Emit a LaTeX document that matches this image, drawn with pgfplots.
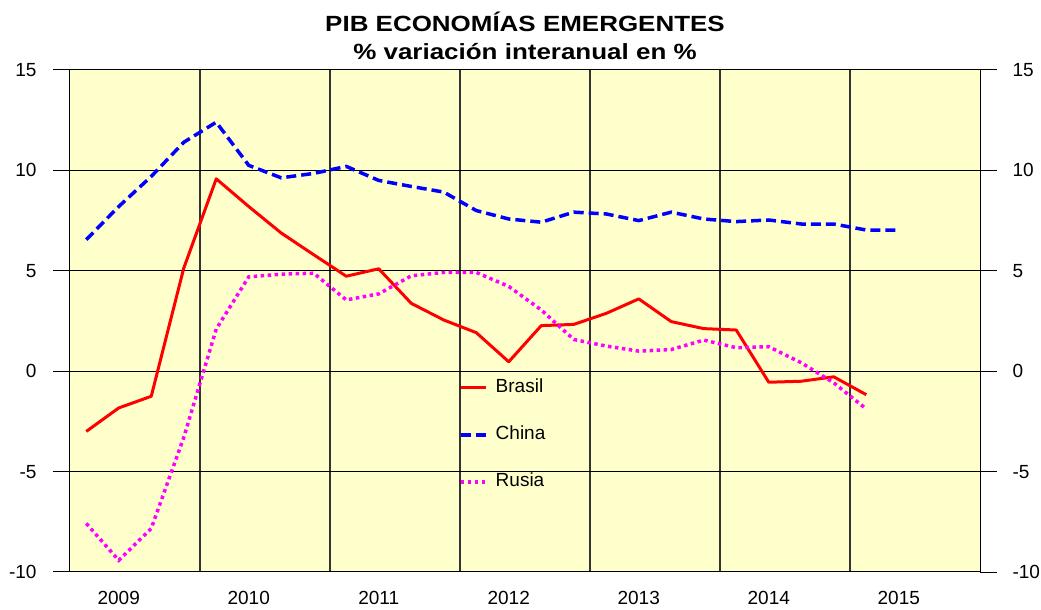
\documentclass[border=0pt]{standalone}
\usepackage{pgfplots}
\pgfplotsset{compat=1.18}
\usepackage{fontspec}
\setmainfont{Liberation Sans}
\newfontfamily\titlefont[FakeStretch=1.18]{Liberation Sans}
\definecolor{plotbg}{HTML}{FFFFCC}
\definecolor{brasil}{HTML}{FF0000}
\definecolor{china}{HTML}{0000FF}
\definecolor{rusia}{HTML}{FF00FF}
\begin{document}
\begin{tikzpicture}
\path[use as bounding box] (-70pt,-38pt) rectangle (971pt,572pt);
\begin{axis}[
  at={(0pt,0pt)}, anchor=south west,
  scale only axis, width=910pt, height=502pt,
  xmin=0, xmax=28, ymin=-10, ymax=15,
  axis background/.style={fill=plotbg},
  ytick={-10,-5,0,5,10,15},
  ymajorgrids, major grid style={black, line width=1pt},
  xtick={1.5,5.5,9.5,13.5,17.5,21.5,25.5},
  xticklabels={2009,2010,2011,2012,2013,2014,2015},
  minor xtick={4,8,12,16,20,24}, xminorgrids,
  minor grid style={black!80, line width=1.2pt},
  xtick style={draw=none},
  ytick pos=left, tick align=outside, major tick length=17pt,
  ytick style={black, line width=1pt},
  axis line style={black, line width=1pt},
  tick label style={font=\fontsize{19}{23}\selectfont},
  /pgf/number format/assume math mode=true,
  yticklabel style={xshift=-13pt},
  xticklabel style={yshift=1pt},
  title={PIB ECONOMÍAS EMERGENTES\\\% variación interanual en \%},
  title style={font=\titlefont\bfseries\fontsize{22}{28}\selectfont, align=center,
    at={(0.5,1)}, anchor=south, inner sep=0pt, yshift=4pt},
  legend style={at={(0.4275,0.385)}, anchor=north west, draw=none, fill=none,
    font=\fontsize{19}{23}\selectfont, inner sep=0pt,
    nodes={inner sep=0pt, text height=14pt, text depth=4pt},
    /tikz/row sep=29pt, /tikz/column sep=8pt},
  legend cell align=left,
  legend image code/.code={\draw[#1] (0pt,0pt) -- (25pt,0pt);},
]
\addplot[brasil, line width=3pt, line join=round] coordinates {
(0.5,-3.0)(1.5,-1.83)(2.5,-1.25)(3.5,5.13)(4.5,9.58)(5.5,8.2)(6.5,6.88)(7.5,5.8)(8.5,4.73)(9.5,5.1)(10.5,3.38)(11.5,2.55)(12.5,1.92)(13.5,0.47)(14.5,2.27)(15.5,2.33)(16.5,2.88)(17.5,3.6)(18.5,2.47)(19.5,2.12)(20.5,2.05)(21.5,-0.55)(22.5,-0.5)(23.5,-0.28)(24.5,-1.17)};
\addlegendentry{Brasil}
\addplot[china, line width=3.5pt, dash pattern=on 10pt off 5pt] coordinates {
(0.5,6.55)(1.5,8.2)(2.5,9.7)(3.5,11.4)(4.5,12.4)(5.5,10.25)(6.5,9.63)(7.5,9.85)(8.5,10.2)(9.5,9.5)(10.5,9.2)(11.5,8.92)(12.5,8.0)(13.5,7.58)(14.5,7.42)(15.5,7.92)(16.5,7.83)(17.5,7.5)(18.5,7.92)(19.5,7.58)(20.5,7.45)(21.5,7.53)(22.5,7.33)(23.5,7.33)(24.5,7.03)(25.5,7.03)};
\addlegendentry{China}
\addplot[rusia, line width=3.5pt, dash pattern=on 3.5pt off 3.5pt] coordinates {
(0.5,-7.58)(1.5,-9.42)(2.5,-7.83)(3.5,-3.3)(4.5,2.1)(5.5,4.7)(6.5,4.83)(7.5,4.88)(8.5,3.55)(9.5,3.85)(10.5,4.75)(11.5,4.92)(12.5,4.92)(13.5,4.22)(14.5,3.05)(15.5,1.58)(16.5,1.25)(17.5,1.0)(18.5,1.08)(19.5,1.55)(20.5,1.17)(21.5,1.22)(22.5,0.42)(23.5,-0.58)(24.5,-1.88)};
\addlegendentry{Rusia}
\end{axis}
\begin{axis}[
  at={(0pt,0pt)}, anchor=south west,
  scale only axis, width=910pt, height=502pt,
  xmin=0, xmax=28, ymin=-10, ymax=15,
  axis y line*=right, axis x line=none,
  ytick={-10,-5,0,5,10,15},
  tick align=outside, major tick length=17pt,
  ytick style={black, line width=1pt},
  axis line style={black, line width=1pt},
  tick label style={font=\fontsize{19}{23}\selectfont},
  /pgf/number format/assume math mode=true,
  yticklabel style={xshift=12pt},
]
\end{axis}
\end{tikzpicture}
\end{document}
